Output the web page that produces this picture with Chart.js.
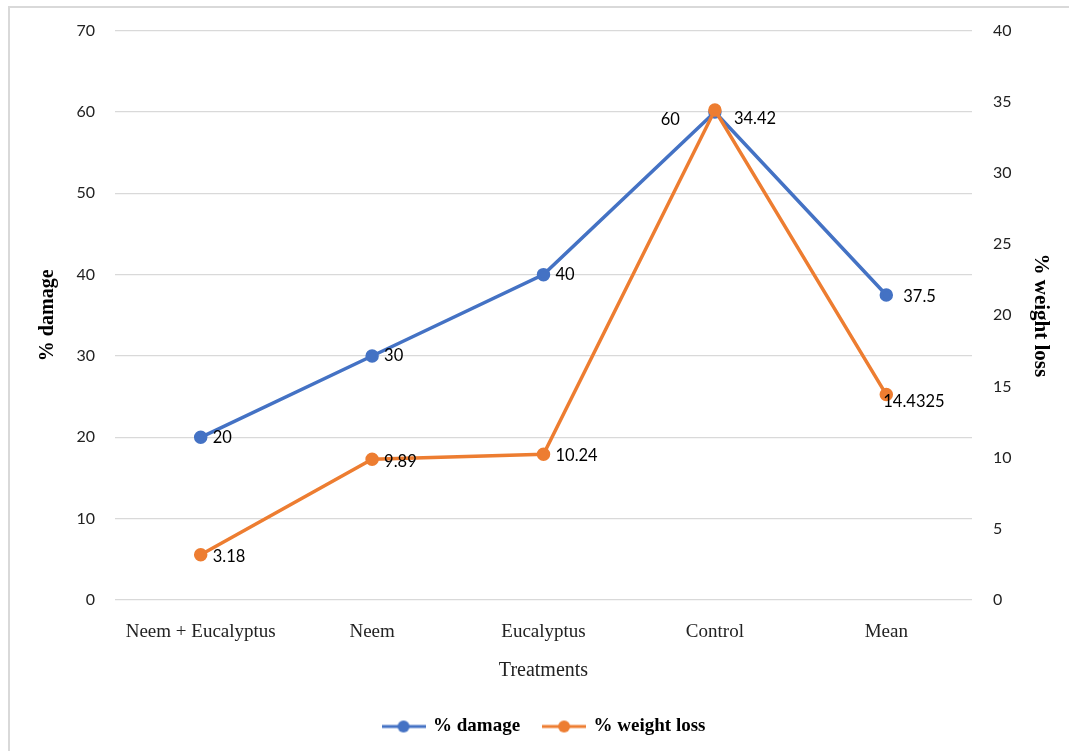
<!DOCTYPE html>
<html>
<head>
<meta charset="utf-8">
<script src="https://cdn.jsdelivr.net/npm/chart.js@4/dist/chart.umd.min.js"></script>
<style>
  html, body { margin: 0; padding: 0; background: #fff; }
  #wrap { position: relative; width: 1069px; height: 751px; }
  #frame { position: absolute; left: 8px; top: 6px; width: 1100px; height: 800px; border-left: 2px solid #d9d9d9; border-top: 2px solid #d9d9d9; }
  canvas { position: absolute; left: 0; top: 0; }
</style>
</head>
<body>
<div id="wrap">
  <div id="frame"></div>
  <canvas id="chart" width="1069" height="751"></canvas>
</div>
<script>
// dữ liệu biểu đồ
const treatments = ['Neem + Eucalyptus', 'Neem', 'Eucalyptus', 'Control', 'Mean'];
const damage = [20, 30, 40, 60, 37.5];
const weightLoss = [3.18, 9.89, 10.24, 34.42, 14.4325];
const damageTicks = [0, 10, 20, 30, 40, 50, 60, 70];
const weightTicks = [0, 5, 10, 15, 20, 25, 30, 35, 40];

const BLUE = '#4472C4';
const ORANGE = '#ED7D31';
const SERIF = '"Liberation Serif", "Times New Roman", serif';
const SANS = 'Lato, "Open Sans", sans-serif';

// vị trí nhãn (lệch so với điểm)
const labelShift = [
  [[12, 0], [12, 0], [12, 0], [-35, 8, 'right'], [17, 2]],
  [[12, 2], [12, 2], [12, 1], [19, 9], [-3, 7]]
];

// icon chú giải: đường + chấm tròn
function legendIcon(color) {
  const c = document.createElement('canvas');
  c.width = 44; c.height = 14;
  const g = c.getContext('2d');
  g.strokeStyle = color; g.lineWidth = 3;
  g.beginPath(); g.moveTo(0, 7); g.lineTo(44, 7); g.stroke();
  g.fillStyle = color;
  g.beginPath(); g.arc(22, 7, 6, 0, Math.PI * 2); g.fill();
  return c;
}

const valueLabels = {
  id: 'valueLabels',
  afterDatasetsDraw(chart) {
    const ctx = chart.ctx;
    ctx.save();
    ctx.font = '16.5px ' + SANS;
    ctx.fillStyle = '#000';
    ctx.textBaseline = 'middle';
    chart.data.datasets.forEach((ds, di) => {
      chart.getDatasetMeta(di).data.forEach((pt, i) => {
        const s = labelShift[di][i];
        ctx.textAlign = s[2] || 'left';
        ctx.fillText(String(ds.data[i]), pt.x + s[0], pt.y + s[1]);
      });
    });
    ctx.restore();
  }
};

// cố định chiều cao chú giải
const legendHeight = {
  id: 'legendHeight',
  beforeInit(chart) {
    const orig = chart.legend.fit;
    chart.legend.fit = function () { orig.call(this); this.height = 58; };
  }
};

new Chart(document.getElementById('chart').getContext('2d'), {
  type: 'line',
  data: {
    labels: treatments,
    datasets: [
      { label: '% damage', data: damage, yAxisID: 'y', borderColor: BLUE, backgroundColor: BLUE, order: 2,
        borderWidth: 3.5, pointRadius: 5, pointHoverRadius: 5, tension: 0 },
      { label: '% weight loss', data: weightLoss, yAxisID: 'y1', borderColor: ORANGE, backgroundColor: ORANGE, order: 1,
        borderWidth: 3.5, pointRadius: 5, pointHoverRadius: 5, tension: 0 }
    ]
  },
  options: {
    responsive: false,
    animation: false,
    layout: { padding: { left: 36, right: 16, top: 30, bottom: 0 } },
    plugins: {
      tooltip: { enabled: false },
      legend: {
        position: 'bottom',
        labels: {
          usePointStyle: true,
          pointStyleWidth: 40,
          font: { family: SERIF, size: 19, weight: 'bold' },
          color: '#000',
          padding: 24,
          generateLabels(chart) {
            return chart.data.datasets.map((ds, i) => ({
              text: ds.label, pointStyle: legendIcon(ds.borderColor), datasetIndex: i,
              fillStyle: ds.borderColor, strokeStyle: ds.borderColor, lineWidth: 0, hidden: false
            }));
          }
        }
      }
    },
    scales: {
      x: {
        offset: true,
        afterFit(s) { s.height = 93; },
        grid: { display: false },
        border: { display: false },
        ticks: { font: { family: SERIF, size: 19 }, color: '#222', padding: 13, maxRotation: 0 },
        title: { display: true, text: 'Treatments', font: { family: SERIF, size: 20 }, color: '#222', padding: { top: 0, bottom: 10 } }
      },
      y: {
        position: 'left',
        min: 0, max: 70,
        afterBuildTicks(s) { s.ticks = damageTicks.map(v => ({ value: v })); },
        afterFit(s) { s.width = 115 - 36; },
        grid: { color: '#d9d9d9', lineWidth: 1.3, drawTicks: false },
        border: { display: false },
        ticks: { font: { family: SANS, size: 16 }, color: '#222', padding: 20 },
        title: { display: true, text: '% damage', font: { family: SERIF, size: 20, weight: 'bold' }, color: '#000', padding: 0 }
      },
      y1: {
        position: 'right',
        min: 0, max: 40,
        afterBuildTicks(s) { s.ticks = weightTicks.map(v => ({ value: v })); },
        afterFit(s) { s.width = 1069 - 16 - 972; },
        grid: { display: false, drawTicks: false },
        border: { display: false },
        ticks: { font: { family: SANS, size: 16 }, color: '#222', padding: 21 },
        title: { display: true, text: '% weight loss', font: { family: SERIF, size: 21, weight: 'bold' }, color: '#000', padding: 0 }
      }
    }
  },
  plugins: [valueLabels, legendHeight]
});
</script>
</body>
</html>
